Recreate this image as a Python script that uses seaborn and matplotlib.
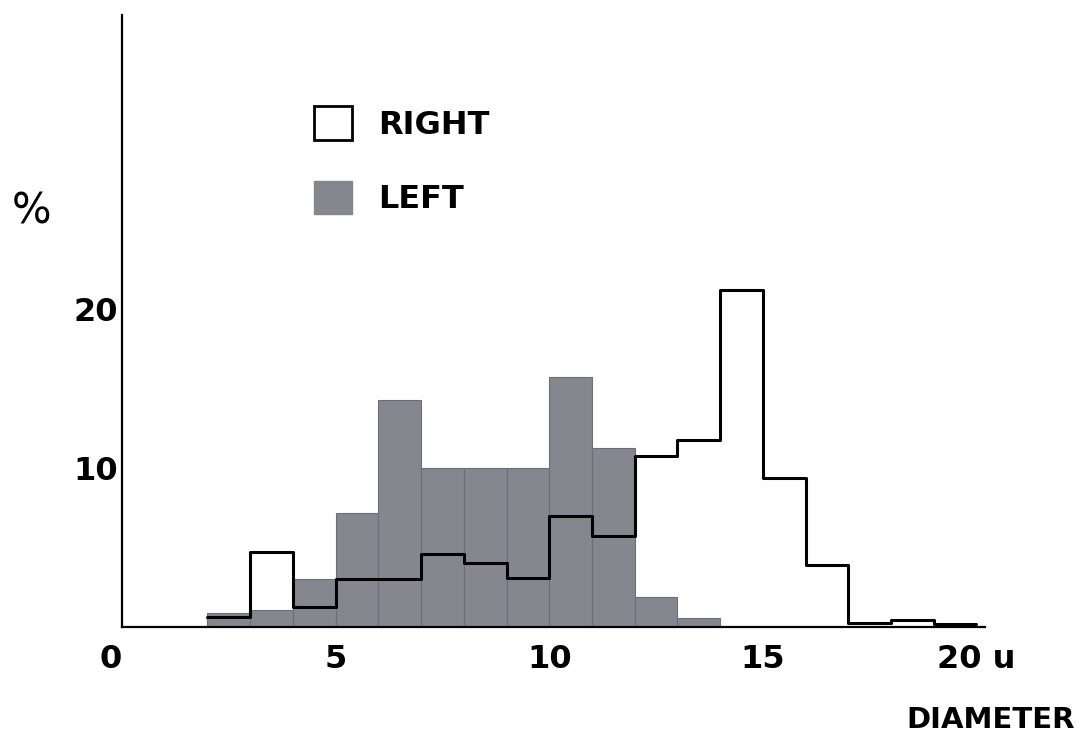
import numpy as np
import matplotlib
matplotlib.use("Agg")
import matplotlib.pyplot as plt
import seaborn as sns
from matplotlib.patches import Patch

# Fibre diameter distribution (percent per 1 u class)
right_bins = list(range(2, 21))   # class edges 2..20 u
right_pct = [0.6, 4.7, 1.25, 3.0, 3.0, 4.6, 4.0, 3.1, 7.0, 5.75,
             10.75, 11.75, 21.2, 9.4, 3.9, 0.25, 0.45, 0.2]
left_bins = list(range(2, 15))    # class edges 2..14 u
left_pct = [0.85, 1.05, 3.0, 7.2, 14.25, 10.0, 10.0, 10.0, 15.75, 11.25, 1.9, 0.55]

x_ticks = [0, 5, 10, 15, 20]
x_labels = ["0", "5", "10", "15", "20 u"]
y_ticks = [10, 20]
y_labels = ["10", "20"]

gray = "#86868e"

sns.set_style("white")
plt.rcParams["font.family"] = ["DejaVu Sans"]
plt.rcParams["text.color"] = "black"
plt.rcParams["xtick.color"] = "black"
plt.rcParams["ytick.color"] = "black"

fig = plt.figure(figsize=(10.85, 7.42), dpi=100)
ax = fig.add_axes([122 / 1085, 1 - 627 / 742, 863 / 1085, 612 / 742])

right_centers = [b + 0.5 for b in right_bins[:-1]]
left_centers = [b + 0.5 for b in left_bins[:-1]]

sns.histplot(x=left_centers, weights=left_pct, bins=left_bins, element="bars",
             color=gray, alpha=1, edgecolor="#6e6e78", linewidth=0.8, ax=ax)
sns.histplot(x=right_centers, weights=right_pct, bins=right_bins, element="step",
             fill=False, color="black", linewidth=2.2, ax=ax)

ax.set_xlim(0, 20.2)
ax.set_ylim(0, 38.5)
ax.set_xticks(x_ticks)
ax.set_xticklabels(x_labels, fontsize=23, fontweight="bold", color="black")
ax.set_yticks(y_ticks)
ax.set_yticklabels(y_labels, fontsize=23, fontweight="bold", color="black")
ax.get_xticklabels()[0].set_ha("right")
ax.tick_params(axis="x", length=0, pad=12)
ax.tick_params(axis="y", length=0, pad=3)
ax.set_xlabel("")
ax.set_ylabel("")

sns.despine(ax=ax)
for side in ["left", "bottom"]:
    ax.spines[side].set_color("black")
    ax.spines[side].set_linewidth(1.6)

handles = [Patch(facecolor="white", edgecolor="black", linewidth=2, label="RIGHT"),
           Patch(facecolor=gray, edgecolor=gray, label="LEFT")]
leg = ax.legend(handles=handles, loc="upper left", bbox_to_anchor=(298 / 1085, 1 - 90 / 742),
                bbox_transform=fig.transFigure, frameon=False, borderpad=0,
                handlelength=1.2, handleheight=1.25, handletextpad=0.8, labelspacing=1.25,
                prop={"size": 23, "weight": "bold"})
for t in leg.get_texts():
    t.set_color("black")

fig.text(32 / 1085, 1 - 212 / 742, "%", ha="center", va="center", fontsize=30, color="black")
fig.text(1075 / 1085, 1 - 720 / 742, "DIAMETER", ha="right", va="center",
         fontsize=21, fontweight="bold", color="black")

fig.savefig("out.png", dpi=100)
